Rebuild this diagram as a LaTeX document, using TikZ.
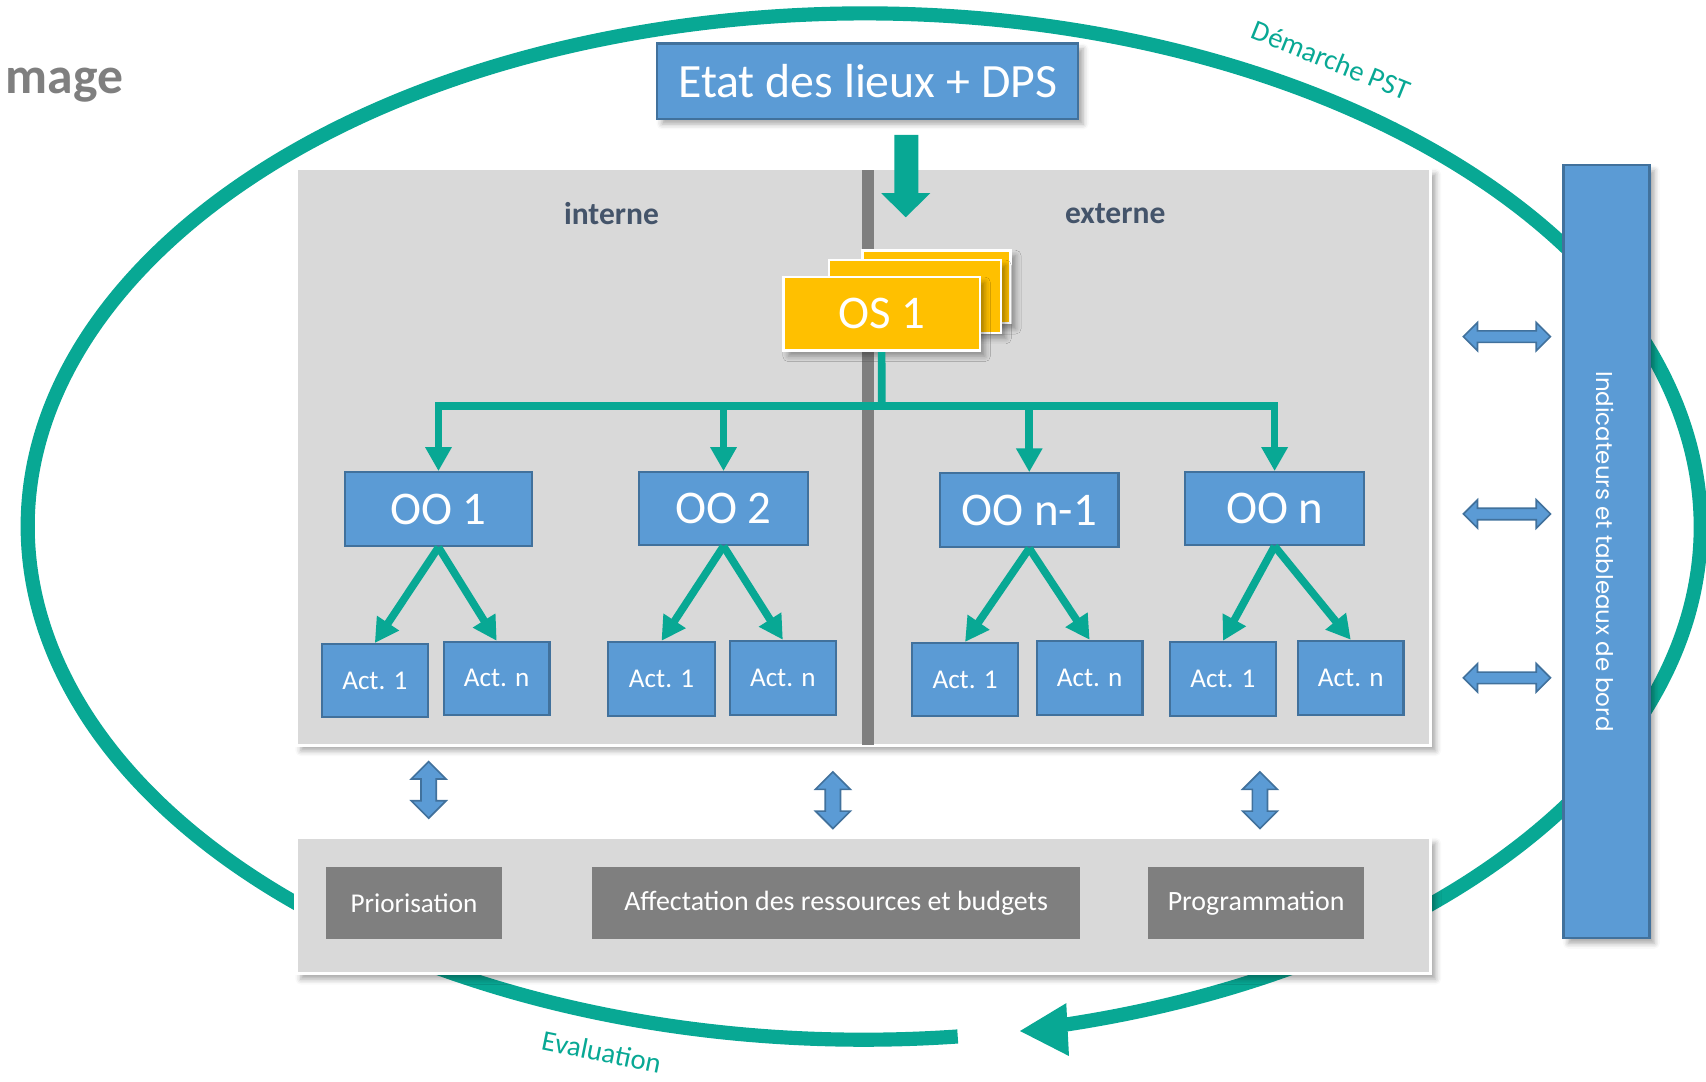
\documentclass[tikz,border=0pt]{standalone}
\usepackage{fontspec}
\setmainfont{Carlito}
\newfontfamily\gothicfont{Poppins}
\usetikzlibrary{arrows.meta,calc,shadows.blur}
\definecolor{obl}{HTML}{5B9BD5}
\definecolor{obd}{HTML}{41719C}
\definecolor{tl}{RGB}{8,168,148}
\definecolor{yl}{HTML}{FFC000}
\definecolor{pn}{HTML}{D9D9D9}
\definecolor{gy}{HTML}{7F7F7F}
\definecolor{sl}{HTML}{44546A}
\newcommand{\boxat}[7]{%
  \pgfmathsetmacro{\myW}{(#5-#3)*0.2}%
  \pgfmathsetmacro{\myH}{(#6-#4)*0.2}%
  \node[#2, minimum width=\myW mm, minimum height=\myH mm] (#1) at ({(#3+#5)/2},{-(#4+#6)/2}) {#7};}
\newcommand{\hdarr}[3]{%
  \coordinate (#1) at (#2,-#3);
  \draw[blockarrow] ($(#1)+(-40,0)$) -- ++(13,13) -- ++(0,-7.7) -- ++(54,0) -- ++(0,7.7) -- ++(13,-13) -- ++(-13,-13) -- ++(0,7.7) -- ++(-54,0) -- ++(0,-7.7) -- cycle;}
\newcommand{\vdarr}[3]{%
  \coordinate (#1) at (#2,-#3);
  \draw[blockarrow] ($(#1)+(0,26)$) -- ++(16,-16) -- ++(-9,0) -- ++(0,-20) -- ++(9,0) -- ++(-16,-16) -- ++(-16,16) -- ++(9,0) -- ++(0,20) -- ++(-9,0) -- cycle;}
\tikzset{
  bluebox/.style={draw=obd, fill=obl, line width=0.4mm, text=white, inner sep=0pt},
  shad/.style={blur shadow={shadow xshift=0.9mm, shadow yshift=-1mm, shadow blur radius=1mm, shadow opacity=35}},
  panel/.style={fill=pn, draw=white, line width=0.6mm, inner sep=0pt, shad},
  card/.style={fill=yl, draw=white, line width=0.5mm, inner sep=0pt, text=white, shad},
  graybox/.style={fill=gy, text=white, inner sep=0pt},
  tline/.style={draw=tl, line width=1.4mm},
  tarrow/.style={tline, -{Triangle[width=4.6mm,length=4.4mm]}},
  ring/.style={draw=tl, line width=2.6mm},
  blockarrow/.style={fill=obl, draw=obd, line width=0.3mm},
  big/.style={font=\fontsize{24.5}{29}\selectfont},
  act/.style={font=\fontsize{14.2}{17}\selectfont},
  side/.style={font=\bfseries\fontsize{16.5}{20}\selectfont, text=sl},
  lbl/.style={text=tl, font=\fontsize{15}{18}\selectfont, inner sep=0pt}
}
\begin{document}
\begin{tikzpicture}[x=0.2mm,y=0.2mm]
\useasboundingbox (0,0) rectangle (1568,-993.6);
% cycle ring
\coordinate (rc) at (794.3,-484);
\draw[ring] (rc) ++(-76.02:768.7 and 471.6) arc[start angle=-76.02, end angle=276.42, x radius=768.7, y radius=471.6];
\fill[tl] (937.5,-947.6) -- (980,-922) -- (982.5,-970.6) -- cycle;
\node[lbl, rotate=-22] (dem) at (1223.5,-55) {Démarche PST};
\node[lbl, rotate=-11.5] (eval) at (553,-967) {Evaluation};
\node[anchor=base west, inner sep=0pt, text=gy, font=\bfseries\fontsize{27}{32}\selectfont] (img) at (5,-85.7) {mage};
% top box
\boxat{etat}{bluebox, shad, font=\fontsize{25}{30}\selectfont}{604}{40}{991}{109}{Etat des lieux + DPS}
% panels
\boxat{main}{panel}{272}{155}{1315}{685}{}
\boxat{bottom}{panel}{272}{770}{1315}{895}{}
\fill[gy] (792,-156) rectangle (803.5,-685);
\fill[tl] (822,-124) -- (844,-124) -- (844,-177.6) -- (855,-177.6) -- (832.5,-199.7) -- (810,-177.6) -- (822,-177.6) -- cycle;
\node[side] (int) at (562,-196) {interne};
\node[side] (ext) at (1025,-196) {externe};
% OS cards
\boxat{osc}{card}{792.5}{230}{929}{297}{}
\boxat{osb}{card}{762}{239}{920}{306}{}
\boxat{os1}{card, big}{720}{254.6}{900.7}{322.4}{OS 1}
% OO boxes
\boxat{oo1}{bluebox, big}{317}{434}{489}{502}{OO 1}
\boxat{oo2}{bluebox, big}{587}{434}{743}{501}{OO 2}
\boxat{oo3}{bluebox, big}{864}{435}{1028}{503}{OO n-1}
\boxat{oo4}{bluebox, big}{1089}{434}{1254}{501}{OO n}
% Act boxes
\boxat{a11}{bluebox, act}{296}{592}{393}{659}{Act. 1}
\boxat{a1n}{bluebox, act}{408}{590}{505}{657}{Act. n}
\boxat{a21}{bluebox, act}{559}{590}{657}{658}{Act. 1}
\boxat{a2n}{bluebox, act}{671}{589}{768}{657}{Act. n}
\boxat{a31}{bluebox, act}{838}{591}{936}{658}{Act. 1}
\boxat{a3n}{bluebox, act}{953}{589}{1050}{657}{Act. n}
\boxat{a41}{bluebox, act}{1075}{590}{1173}{658}{Act. 1}
\boxat{a4n}{bluebox, act}{1193}{589}{1290}{657}{Act. n}
% tree connectors
\coordinate (bus) at (810.4,-373);
\draw[tline] (os1.south) -- (bus);
\draw[tarrow] (bus) -| (oo1.north);
\draw[tarrow] (bus) -| (oo2.north);
\draw[tarrow] (bus) -| (oo3.north);
\draw[tarrow] (bus) -| (oo4.north);
\foreach \o in {1,2,3,4}{
  \draw[tarrow] (oo\o.south) -- (a\o1.north);
  \draw[tarrow] (oo\o.south) -- (a\o n.north);
}
% indicator bar
\boxat{ind}{bluebox, shad}{1437}{152}{1516}{862}{}
\node[rotate=-90, text=white, inner sep=0pt, font=\gothicfont\fontsize{12}{14}\selectfont] (indtxt) at (1475,-507) {Indicateurs et tableaux de bord};
% block arrows
\hdarr{h1}{1385}{309.4}
\hdarr{h2}{1385}{472.4}
\hdarr{h3}{1385}{623}
\vdarr{v1}{394}{726}
\vdarr{v2}{765.5}{735.5}
\vdarr{v3}{1158}{735.5}
% bottom gray boxes
\boxat{prio}{graybox, act}{300}{797}{461}{863}{Priorisation}
\boxat{aff}{graybox, font=\fontsize{14.6}{17}\selectfont}{544}{797}{993}{863}{Affectation des ressources et budgets}
\boxat{prog}{graybox, font=\fontsize{14.6}{17}\selectfont}{1055}{797}{1254}{863}{Programmation}
\end{tikzpicture}
\end{document}
